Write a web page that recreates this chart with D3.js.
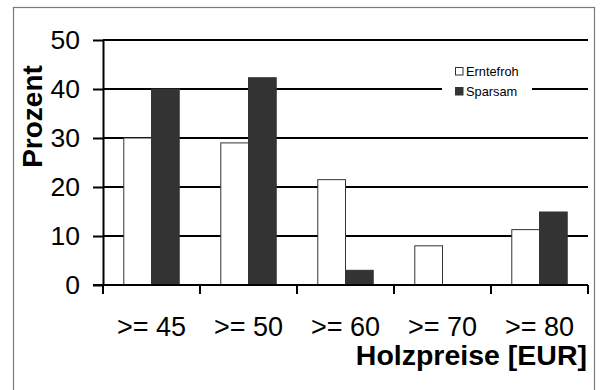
<!DOCTYPE html>
<html>
<head>
<meta charset="utf-8">
<script src="https://cdn.jsdelivr.net/npm/d3@7/dist/d3.min.js"></script>
<style>
  html, body { margin: 0; padding: 0; background: #fff; }
  svg { display: block; font-family: "Liberation Sans", Arial, sans-serif; }
</style>
</head>
<body>
<svg id="chart" width="602" height="390"></svg>
<script>
// Price classes and share of respondents (%) per group
const categories = [">= 45", ">= 50", ">= 60", ">= 70", ">= 80"];
const seriesNames = ["Erntefroh", "Sparsam"];
const erntefroh = [30, 29, 21.5, 8, 11.3];
const sparsam = [40, 42.3, 3, 0, 14.9];
const yTicks = [0, 10, 20, 30, 40, 50];

const seriesValues = [erntefroh, sparsam];
const fills = ["#ffffff", "#333333"];

const svg = d3.select("#chart");

// outer frame
svg.append("rect")
  .attr("x", 13.5).attr("y", 7.5)
  .attr("width", 581).attr("height", 400)
  .attr("fill", "#fff").attr("stroke", "#7a7a7a").attr("stroke-width", 1.2);

const plot = { left: 103, right: 588, top: 40, bottom: 285 };

const x = d3.scaleBand().domain(categories)
  .range([plot.left, plot.right]).paddingInner(0).paddingOuter(0);
const xs = d3.scaleBand().domain(seriesNames)
  .range([0, x.bandwidth()]).paddingInner(0).paddingOuter(0.75);
const y = d3.scaleLinear().domain([0, 50]).range([plot.bottom, plot.top]);

// horizontal gridlines
svg.append("g").selectAll("line").data(yTicks.filter(t => t > 0)).join("line")
  .attr("x1", plot.left).attr("x2", plot.right)
  .attr("y1", d => y(d)).attr("y2", d => y(d))
  .attr("stroke", "#000").attr("stroke-width", 2);

// legend box (blanks out the gridline behind it)
const legend = svg.append("g");
legend.append("rect")
  .attr("x", 442).attr("y", 60).attr("width", 90).attr("height", 42)
  .attr("fill", "#fff");
seriesNames.forEach((name, i) => {
  const ly = 67.5 + i * 20;
  legend.append("rect")
    .attr("x", 455.5).attr("y", ly).attr("width", 7.5).attr("height", 7.5)
    .attr("fill", fills[i]).attr("stroke", "#333").attr("stroke-width", 1);
  legend.append("text")
    .attr("x", 466).attr("y", ly + 8.5)
    .attr("font-size", 12.8).attr("fill", "#000")
    .text(name);
});

// bars
const rows = [];
categories.forEach((c, ci) => {
  seriesNames.forEach((s, si) => {
    rows.push({ cat: c, series: s, value: seriesValues[si][ci], fill: fills[si] });
  });
});
svg.append("g").selectAll("rect").data(rows.filter(d => d.value > 0)).join("rect")
  .attr("x", d => x(d.cat) + xs(d.series))
  .attr("y", d => y(d.value))
  .attr("width", xs.bandwidth())
  .attr("height", d => y(0) - y(d.value))
  .attr("fill", d => d.fill)
  .attr("stroke", "#333").attr("stroke-width", 1);

// y axis
const yAxis = d3.axisLeft(y).tickValues(yTicks).tickSize(10).tickSizeOuter(0).tickPadding(13);
const gy = svg.append("g").attr("transform", `translate(${plot.left},0)`).call(yAxis);
gy.select(".domain").attr("stroke", "#000").attr("stroke-width", 2);
gy.selectAll(".tick line").attr("stroke", "#000").attr("stroke-width", 2);
gy.selectAll(".tick text").attr("font-size", 26.5).attr("fill", "#000")
  .attr("font-family", "'Liberation Sans', Arial, sans-serif");

// x axis: ticks on category boundaries
const boundaries = categories.map(c => x(c)).concat([plot.right]);
const gx = svg.append("g");
gx.append("line")
  .attr("x1", plot.left - 10).attr("x2", plot.right)
  .attr("y1", plot.bottom).attr("y2", plot.bottom)
  .attr("stroke", "#000").attr("stroke-width", 2);
gx.selectAll("line.tk").data(boundaries).join("line").attr("class", "tk")
  .attr("x1", d => d).attr("x2", d => d)
  .attr("y1", plot.bottom).attr("y2", plot.bottom + 9)
  .attr("stroke", "#000").attr("stroke-width", 2);
gx.selectAll("text").data(categories).join("text")
  .attr("x", d => x(d) + x.bandwidth() / 2)
  .attr("y", 336)
  .attr("text-anchor", "middle")
  .attr("font-size", 27).attr("fill", "#000")
  .text(d => d);

// axis titles
svg.append("text")
  .attr("x", 587).attr("y", 365)
  .attr("text-anchor", "end")
  .attr("font-size", 28.5).attr("font-weight", "bold").attr("fill", "#000")
  .text("Holzpreise [EUR]");

svg.append("text")
  .attr("transform", "translate(41.5,116.5) rotate(-90)")
  .attr("text-anchor", "middle")
  .attr("font-size", 28).attr("font-weight", "bold").attr("fill", "#000")
  .text("Prozent");
</script>
</body>
</html>
